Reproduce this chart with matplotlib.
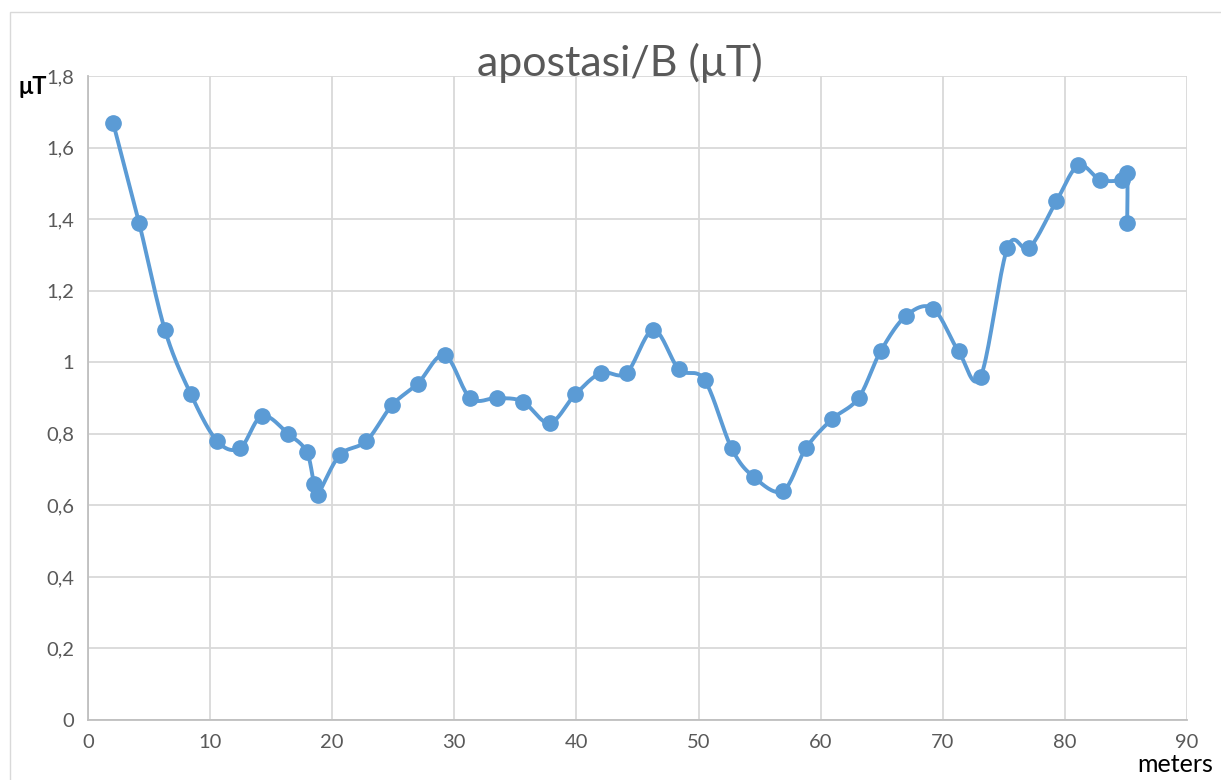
import numpy as np
import matplotlib
matplotlib.use("Agg")
import matplotlib.pyplot as plt
from matplotlib.patches import Rectangle

# Data
distance_m = [2.05, 4.18, 6.3, 8.43, 10.57, 12.45, 14.25, 16.4, 17.9, 18.5, 18.8,
              20.6, 22.8, 24.9, 27.0, 29.2, 31.3, 33.5, 35.6, 37.8, 39.9, 42.0,
              44.1, 46.3, 48.4, 50.5, 52.7, 54.5, 56.9, 58.8, 60.9, 63.1, 64.9,
              67.0, 69.2, 71.3, 73.1, 75.3, 77.1, 79.3, 81.1, 82.9, 84.7, 85.1, 85.1]
b_field_uT = [1.67, 1.39, 1.09, 0.91, 0.78, 0.76, 0.85, 0.80, 0.75, 0.66, 0.63,
              0.74, 0.78, 0.88, 0.94, 1.02, 0.90, 0.90, 0.89, 0.83, 0.91, 0.97,
              0.97, 1.09, 0.98, 0.95, 0.76, 0.68, 0.64, 0.76, 0.84, 0.90, 1.03,
              1.13, 1.15, 1.03, 0.96, 1.32, 1.32, 1.45, 1.55, 1.51, 1.51, 1.53, 1.39]
x_ticks = [0, 10, 20, 30, 40, 50, 60, 70, 80, 90]
y_ticks = [0, 0.2, 0.4, 0.6, 0.8, 1.0, 1.2, 1.4, 1.6, 1.8]
y_tick_labels = ["0", "0,2", "0,4", "0,6", "0,8", "1", "1,2", "1,4", "1,6", "1,8"]
title = "apostasi/B (\u03bcT)"

def smooth(xs, ys, n=20):
    P = np.column_stack([xs, ys]).astype(float)
    P_ext = np.vstack([P[0], P, P[-1]])
    out = []
    for i in range(1, len(P_ext) - 2):
        p0, p1, p2, p3 = P_ext[i - 1], P_ext[i], P_ext[i + 1], P_ext[i + 2]
        c1 = p1 + (p2 - p0) / 6.0
        c2 = p2 - (p3 - p1) / 6.0
        t = np.linspace(0, 1, n, endpoint=(i == len(P_ext) - 3))[:, None]
        seg = ((1 - t) ** 3) * p1 + 3 * ((1 - t) ** 2) * t * c1 + 3 * (1 - t) * t ** 2 * c2 + t ** 3 * p2
        out.append(seg)
    S = np.vstack(out)
    return S[:, 0], S[:, 1]

fig = plt.figure(figsize=(12.21, 7.8), dpi=100)
fig.patches.append(Rectangle((10 / 1221, -0.1), 1.2, 1.1 - 12 / 780,
                             transform=fig.transFigure, fill=False,
                             edgecolor="#d9d9d9", linewidth=1.0))
ax = fig.add_axes([88 / 1221, 1 - 720 / 780, (1187 - 88) / 1221, (720 - 76) / 780])

sx, sy = smooth(distance_m, b_field_uT)
color = "#5B9BD5"
ax.plot(sx, sy, color=color, linewidth=2.8, solid_capstyle="round", zorder=3)
ax.plot(distance_m, b_field_uT, linestyle="none", marker="o", markersize=11,
        color=color, zorder=4)

ax.set_xlim(0, 90)
ax.set_ylim(0, 1.8)
ax.set_xticks(x_ticks)
ax.set_yticks(y_ticks)
ax.set_yticklabels(y_tick_labels)
ax.grid(True, color="#d9d9d9", linewidth=1.3)
ax.set_axisbelow(True)
for s in ["top", "right"]:
    ax.spines[s].set_visible(False)
ax.spines["left"].set_color("#bfbfbf")
ax.spines["bottom"].set_color("#bfbfbf")
ax.spines["left"].set_linewidth(1.3)
ax.spines["bottom"].set_linewidth(1.3)
ax.tick_params(axis="both", length=0, labelsize=14.5, labelcolor="#595959", pad=10)
for lab in ax.get_xticklabels() + ax.get_yticklabels():
    lab.set_fontfamily("Lato")

fig.text(620 / 1221, 1 - 63 / 780, title, ha="center", va="center",
         fontsize=31, color="#595959", family="Lato")
fig.text(18 / 1221, 1 - 86 / 780, "\u03bcT", ha="left", va="center",
         fontsize=17, fontweight="bold", color="black", family="Lato")
fig.text(1175 / 1221, 1 - 764 / 780, "meters", ha="center", va="center",
         fontsize=18, color="black", family="Lato")

fig.savefig("out.png", dpi=100)
